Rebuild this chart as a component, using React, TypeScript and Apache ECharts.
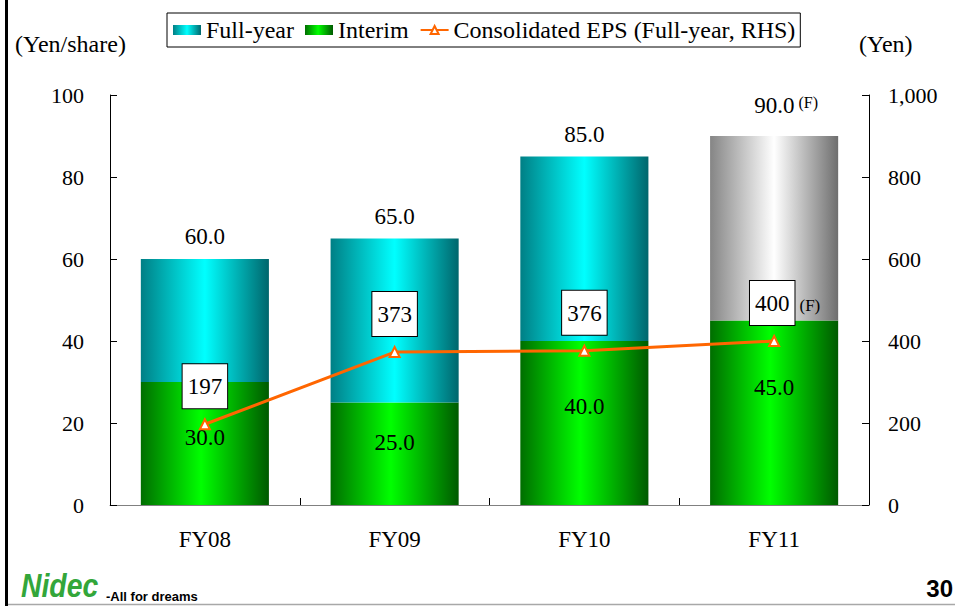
import React, { useEffect, useRef } from "react";
import * as echarts from "echarts";

const categories = ["FY08", "FY09", "FY10", "FY11"];
const fullYear = [60, 65, 85, 90];
const interim = [30, 25, 40, 45];
const eps = [197, 373, 376, 400];
const forecast = [false, false, false, true];
const leftTicks = { min: 0, max: 100, interval: 20 };
const rightTicks = { min: 0, max: 1000, interval: 200 };

const legendNames = ["Full-year", "Interim", "Consolidated EPS (Full-year, RHS)"];

const SERIF = "'Liberation Serif', 'Times New Roman', serif";
const SANS = "'Liberation Sans', Arial, sans-serif";

// label nudges (style only)
const interimLabelShift = [-6, -11, -17, -25];

export default function App() {
  const ref = useRef<HTMLDivElement>(null);

  useEffect(() => {
    if (!ref.current) return;
    const chart = echarts.init(ref.current, undefined, { renderer: "svg" });

    const greenGrad = new echarts.graphic.LinearGradient(0, 0, 1, 0, [
      { offset: 0, color: "#006e00" },
      { offset: 0.47, color: "#00ff00" },
      { offset: 1, color: "#005a00" },
    ]);
    const cyanGrad = new echarts.graphic.LinearGradient(0, 0, 1, 0, [
      { offset: 0, color: "#007f85" },
      { offset: 0.5, color: "#00ffff" },
      { offset: 1, color: "#00666c" },
    ]);
    const grayGrad = new echarts.graphic.LinearGradient(0, 0, 1, 0, [
      { offset: 0, color: "#858585" },
      { offset: 0.5, color: "#ffffff" },
      { offset: 1, color: "#6e6e6e" },
    ]);

    const option: any = {
      animation: false,
      textStyle: { fontFamily: SERIF },
      grid: { left: 110, right: 86, top: 95, bottom: 101 },
      legend: {
        data: [
          { name: legendNames[0], icon: "rect" },
          { name: legendNames[1], icon: "rect" },
          { name: legendNames[2] },
        ],
        left: 167,
        top: 13,
        padding: [5, 5, 5, 6],
        borderColor: "#000",
        borderWidth: 1,
        itemWidth: 28,
        itemHeight: 10,
        itemGap: 11,
        textStyle: { fontFamily: SERIF, fontSize: 24, color: "#000" },
      },
      xAxis: {
        type: "category",
        data: categories,
        axisLine: { lineStyle: { color: "#808080", width: 1 } },
        axisTick: { show: true, inside: true, length: 7, lineStyle: { color: "#000" } },
        axisLabel: { margin: 23, fontSize: 23, fontFamily: SERIF, color: "#000" },
      },
      yAxis: [
        {
          type: "value",
          min: leftTicks.min,
          max: leftTicks.max,
          interval: leftTicks.interval,
          axisLine: { show: true, lineStyle: { color: "#000" } },
          axisTick: { show: true, inside: true, length: 7, lineStyle: { color: "#000" } },
          splitLine: { show: false },
          axisLabel: { margin: 26, fontSize: 22, fontFamily: SERIF, color: "#000" },
        },
        {
          type: "value",
          position: "right",
          min: rightTicks.min,
          max: rightTicks.max,
          interval: rightTicks.interval,
          axisLine: { show: true, lineStyle: { color: "#000" } },
          axisTick: { show: true, inside: true, length: 7, lineStyle: { color: "#000" } },
          splitLine: { show: false },
          axisLabel: {
            margin: 19,
            fontSize: 22,
            fontFamily: SERIF,
            color: "#000",
            formatter: (v: number) => v.toLocaleString("en-US"),
          },
        },
      ],
      series: [
        {
          name: "Interim",
          type: "bar",
          stack: "dps",
          barWidth: "67.5%",
          itemStyle: { color: greenGrad },
          label: {
            show: true,
            position: "inside",
            fontSize: 23,
            fontFamily: SERIF,
            color: "#000",
            formatter: (p: any) => Number(p.value).toFixed(1),
          },
          data: interim.map((v, i) => ({
            value: v,
            label: { offset: [0, interimLabelShift[i]] },
          })),
        },
        {
          name: "Full-year",
          type: "bar",
          stack: "dps",
          barWidth: "67.5%",
          itemStyle: { color: cyanGrad },
          label: {
            show: true,
            position: "top",
            distance: 11,
            color: "#000",
            formatter: (p: any) => {
              const t = fullYear[p.dataIndex].toFixed(1);
              return forecast[p.dataIndex] ? `{v|${t}}{f|(F)}` : `{v|${t}}`;
            },
            rich: {
              v: { fontSize: 23, fontFamily: SERIF, color: "#000" },
              f: {
                fontSize: 16,
                fontFamily: SERIF,
                color: "#000",
                verticalAlign: "top",
                padding: [0, 0, 0, 4],
              },
            },
          },
          data: fullYear.map((v, i) => ({
            value: v - interim[i],
            itemStyle: forecast[i] ? { color: grayGrad } : undefined,
            label: forecast[i] ? { offset: [12, -8] } : undefined,
          })),
        },
        {
          name: "Consolidated EPS (Full-year, RHS)",
          type: "line",
          yAxisIndex: 1,
          z: 5,
          symbol: "triangle",
          symbolSize: 10,
          lineStyle: { color: "#ff6600", width: 3 },
          itemStyle: { color: "#fff", borderColor: "#ff6600", borderWidth: 2 },
          label: {
            show: true,
            position: "top",
            distance: 10,
            formatter: (p: any) =>
              forecast[p.dataIndex] ? `{a|${p.value}}{f|(F)}` : `{a|${p.value}}`,
            rich: {
              a: {
                fontSize: 23,
                fontFamily: SERIF,
                color: "#000",
                backgroundColor: "#fff",
                borderColor: "#000",
                borderWidth: 1,
                padding: [11, 5, 10, 5],
              },
              f: {
                fontSize: 17,
                fontFamily: SERIF,
                color: "#000",
                padding: [4, 0, 0, 5],
              },
            },
          },
          data: eps.map((v, i) => ({
            value: v,
            label: forecast[i] ? { offset: [11, 0] } : undefined,
          })),
        },
      ],
      graphic: [
        {
          type: "line",
          shape: { x1: 6.5, y1: 0, x2: 6.5, y2: 606 },
          style: { stroke: "#000", lineWidth: 3 },
        },
        {
          type: "line",
          shape: { x1: 8, y1: 604.5, x2: 955, y2: 604.5 },
          style: { stroke: "#a8a8a8", lineWidth: 1.5 },
        },
        {
          type: "text",
          x: 15,
          y: 44,
          style: {
            text: "(Yen/share)",
            font: `24px ${SERIF}`,
            fill: "#000",
            verticalAlign: "middle",
          },
        },
        {
          type: "text",
          x: 859,
          y: 44,
          style: {
            text: "(Yen)",
            font: `24px ${SERIF}`,
            fill: "#000",
            verticalAlign: "middle",
          },
        },
        {
          type: "text",
          x: 21,
          y: 586,
          scaleX: 0.86,
          style: {
            text: "Nidec",
            font: `italic 900 33px ${SANS}`,
            fill: "#33a63a",
            verticalAlign: "middle",
          },
        },
        {
          type: "text",
          x: 106,
          y: 596,
          style: {
            text: "-All for dreams",
            font: `bold 13px ${SANS}`,
            fill: "#000",
            verticalAlign: "middle",
          },
        },
        {
          type: "text",
          x: 953,
          y: 588,
          style: {
            text: "30",
            font: `bold 24px ${SANS}`,
            fill: "#000",
            align: "right",
            verticalAlign: "middle",
          },
        },
      ],
    };

    chart.setOption(option);
    return () => chart.dispose();
  }, []);

  return (
    <div
      ref={ref}
      style={{ position: "absolute", left: 0, top: 0, width: 955, height: 606, background: "#fff" }}
    />
  );
}
